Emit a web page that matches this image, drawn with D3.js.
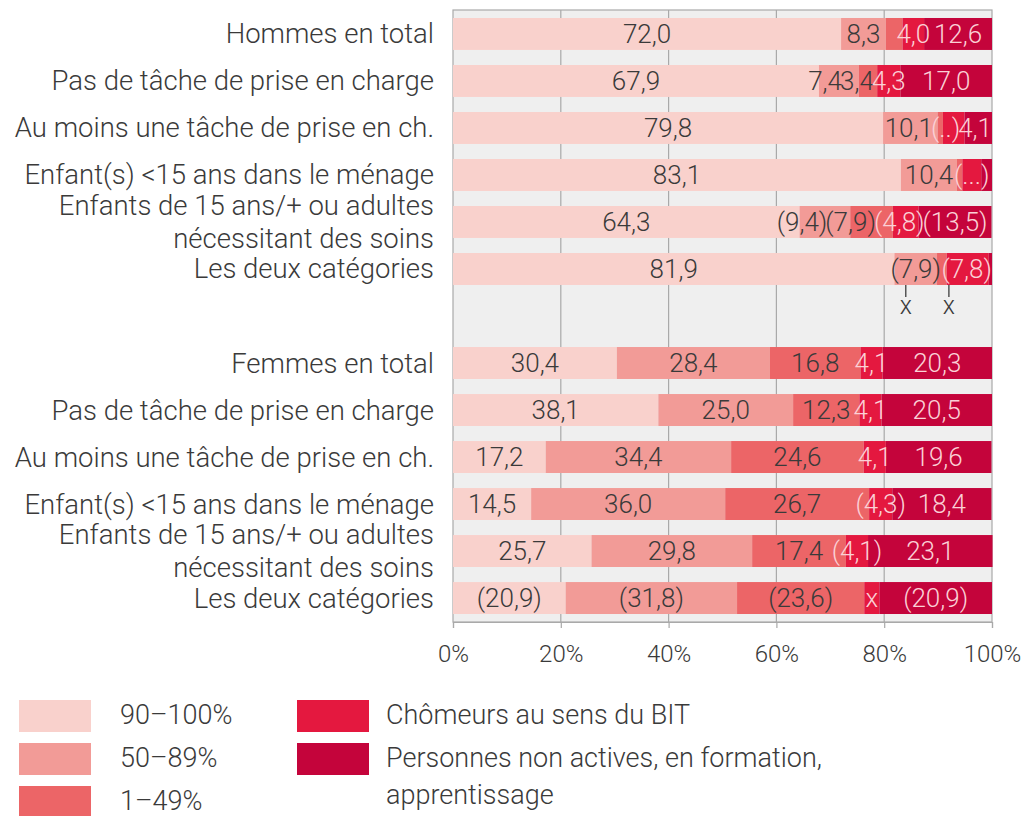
<!DOCTYPE html>
<html>
<head>
<meta charset="utf-8">
<script src="https://cdn.jsdelivr.net/npm/d3@7"></script>
<style>
  body { margin: 0; background: #fff; }
  svg { display: block; font-family: Roboto, "Noto Sans", sans-serif; font-weight: 300; }
</style>
</head>
<body>
<div id="container"></div>
<script>
// row labels (\n = line break)
const hommesRows = [
    "Hommes en total",
    "Pas de tâche de prise en charge",
    "Au moins une tâche de prise en ch.",
    "Enfant(s) <15 ans dans le ménage",
    "Enfants de 15 ans/+ ou adultes\nnécessitant des soins",
    "Les deux catégories"
];
const femmesRows = [
    "Femmes en total",
    "Pas de tâche de prise en charge",
    "Au moins une tâche de prise en ch.",
    "Enfant(s) <15 ans dans le ménage",
    "Enfants de 15 ans/+ ou adultes\nnécessitant des soins",
    "Les deux catégories"
];

// legend / series names, same order as the stack
const seriesNames = ["90–100%", "50–89%", "1–49%", "Chômeurs au sens du BIT", "Personnes non actives, en formation,\napprentissage"];

// values per row (percent), one entry per series
const hommesValues = [
    [72.0, 8.3, 3.1, 4.0, 12.6],
    [67.9, 7.4, 3.4, 4.3, 17.0],
    [79.8, 10.1, 1.0, 4.0, 5.1],
    [83.1, 10.4, 1.0, 3.5, 2.0],
    [64.3, 9.4, 7.9, 4.8, 13.5],
    [81.9, 7.9, 1.8, 7.8, 0.6]
];
const hommesLabels = [
    ["72,0", "8,3", "", "4,0", "12,6"],
    ["67,9", "7,4", "3,4", "4,3", "17,0"],
    ["79,8", "10,1", "", "(..)", "4,1"],
    ["83,1", "10,4", "", "(...)", ""],
    ["64,3", "(9,4)", "(7,9)", "(4,8)", "(13,5)"],
    ["81,9", "(7,9)", "", "(7,8)", ""]
];
const femmesValues = [
    [30.4, 28.4, 16.8, 4.1, 20.3],
    [38.1, 25.0, 12.3, 4.1, 20.5],
    [17.2, 34.4, 24.6, 4.1, 19.6],
    [14.5, 36.0, 26.7, 4.3, 18.4],
    [25.7, 29.8, 17.4, 4.1, 23.1],
    [20.9, 31.8, 23.6, 2.8, 20.9]
];
const femmesLabels = [
    ["30,4", "28,4", "16,8", "4,1", "20,3"],
    ["38,1", "25,0", "12,3", "4,1", "20,5"],
    ["17,2", "34,4", "24,6", "4,1", "19,6"],
    ["14,5", "36,0", "26,7", "(4,3)", "18,4"],
    ["25,7", "29,8", "17,4", "(4,1)", "23,1"],
    ["(20,9)", "(31,8)", "(23,6)", "x", "(20,9)"]
];
// "x" markers hanging under the last men's bar (percent position)
const hiddenMarks = [84, 92];
const xTicks = [0, 20, 40, 60, 80, 100];

const colors = ["#f9d1cc", "#f29b97", "#ec6567", "#e4183f", "#c4043b"];
const textDark = "#3a3a3a";
const textLight = "#fbd0d6";

let w = 1026;
let h = 816;

let viz = d3.select("#container")
    .append("svg")
    .attr("width", w)
    .attr("height", h);

// build the rows: men, an empty slot, women
let rows = [];
hommesRows.forEach((name, i) => rows.push({key: "h" + i, name: name, values: hommesValues[i], labels: hommesLabels[i]}));
rows.push({key: "gap", name: "", values: [], labels: []});
femmesRows.forEach((name, i) => rows.push({key: "f" + i, name: name, values: femmesValues[i], labels: femmesLabels[i]}));

let xScale = d3.scaleLinear().domain([0, 100]).range([453, 992]);
let yScale = d3.scaleBand()
    .domain(rows.map(d => d.key))
    .range([10, 622])
    .paddingInner(0.32)
    .paddingOuter(0.17);

// grey plot background
viz.append("rect")
    .attr("x", xScale(0))
    .attr("y", 10)
    .attr("width", xScale(100) - xScale(0))
    .attr("height", 612)
    .attr("fill", "#efefef")
    .attr("stroke", "#a9a9a9")
    .attr("stroke-width", 1.2);

// vertical grid
viz.append("g").selectAll("line")
    .data(xTicks.slice(1, -1))
    .join("line")
    .attr("x1", d => xScale(d))
    .attr("x2", d => xScale(d))
    .attr("y1", 10)
    .attr("y2", 622)
    .attr("stroke", "#a9a9a9")
    .attr("stroke-width", 1.2);

// stacked segments
let segs = [];
rows.forEach(r => {
    let acc = 0;
    r.values.forEach((v, j) => {
        segs.push({key: r.key, j: j, x0: acc, x1: acc + v, label: r.labels[j]});
        acc += v;
    });
});

let graphGroup = viz.append("g").classed("graphGroup", true);
graphGroup.selectAll("rect")
    .data(segs)
    .join("rect")
    .attr("x", d => xScale(d.x0))
    .attr("width", d => xScale(d.x1) - xScale(d.x0))
    .attr("y", d => yScale(d.key))
    .attr("height", yScale.bandwidth())
    .attr("fill", d => colors[d.j]);

let valueTexts = graphGroup.selectAll("text")
    .data(segs.filter(d => d.label !== ""))
    .join("text")
    .attr("x", d => xScale((d.x0 + d.x1) / 2))
    .attr("y", d => yScale(d.key) + yScale.bandwidth() / 2)
    .attr("dy", "0.36em")
    .attr("text-anchor", "middle")
    .attr("font-size", 26)
    .attr("fill", d => d.j >= 3 ? textLight : textDark)
    .text(d => d.label);

// small segments: push labels to the left when they bump into each other
// (like in the original where "7,4" and "3,4" sit squeezed together)
rows.forEach(r => {
    let nodes = valueTexts.filter(d => d.key === r.key).nodes();
    let right = xScale(100);
    for (let i = nodes.length - 1; i >= 0; i--) {
        let tw = nodes[i].getComputedTextLength();
        let cx = +nodes[i].getAttribute("x");
        if (cx + tw / 2 > right) cx = right - tw / 2;
        nodes[i].setAttribute("x", cx);
        right = cx - tw / 2 + 2;
    }
});

// x markers below "Les deux catégories" (men)
let lastMen = yScale("h5") + yScale.bandwidth();
let marks = viz.append("g");
marks.selectAll("line")
    .data(hiddenMarks)
    .join("line")
    .attr("x1", d => xScale(d))
    .attr("x2", d => xScale(d))
    .attr("y1", lastMen)
    .attr("y2", lastMen + 12)
    .attr("stroke", "#555")
    .attr("stroke-width", 1.5);
marks.selectAll("text")
    .data(hiddenMarks)
    .join("text")
    .attr("x", d => xScale(d))
    .attr("y", lastMen + 29)
    .attr("text-anchor", "middle")
    .attr("font-size", 25)
    .attr("fill", textDark)
    .text("x");

// row labels on the left
let labelGroup = viz.append("g");
rows.filter(r => r.name !== "").forEach(r => {
    let lines = r.name.split("\n");
    let cy = yScale(r.key) + yScale.bandwidth() / 2;
    let t = labelGroup.append("text")
        .attr("x", 434)
        .attr("text-anchor", "end")
        .attr("font-size", 27.5)
        .attr("fill", textDark);
    lines.forEach((line, k) => {
        t.append("tspan")
            .attr("x", 434)
            .attr("y", cy + 9.5 + (k - (lines.length - 1) / 2) * 33)
            .text(line);
    });
});

// x axis
let xAxis = d3.axisBottom(xScale)
    .tickValues(xTicks)
    .tickSize(6)
    .tickPadding(17)
    .tickFormat(d => d + "%");
let xAxisGroup = viz.append("g")
    .attr("transform", "translate(0,622)")
    .call(xAxis);
xAxisGroup.select(".domain").attr("stroke", "#a9a9a9").attr("stroke-width", 1.2);
xAxisGroup.selectAll("line").attr("stroke", "#a9a9a9").attr("stroke-width", 1.2);
xAxisGroup.selectAll("text")
    .attr("font-size", 24)
    .attr("font-family", "Roboto, sans-serif")
    .attr("font-weight", 300)
    .attr("fill", textDark);

// legend: two columns
const legendPos = [
    {x: 19, y: 700}, {x: 19, y: 743}, {x: 19, y: 786},
    {x: 297, y: 700}, {x: 297, y: 743}
];
let legend = viz.append("g");
seriesNames.forEach((name, i) => {
    let p = legendPos[i];
    legend.append("rect")
        .attr("x", p.x)
        .attr("y", p.y)
        .attr("width", 72)
        .attr("height", 32)
        .attr("fill", colors[i]);
    let t = legend.append("text")
        .attr("font-size", 27)
        .attr("fill", textDark);
    name.split("\n").forEach((line, k) => {
        t.append("tspan")
            .attr("x", p.x + (i < 3 ? 101 : 89))
            .attr("y", p.y + 24 + k * 37)
            .text(line);
    });
});
</script>
</body>
</html>
